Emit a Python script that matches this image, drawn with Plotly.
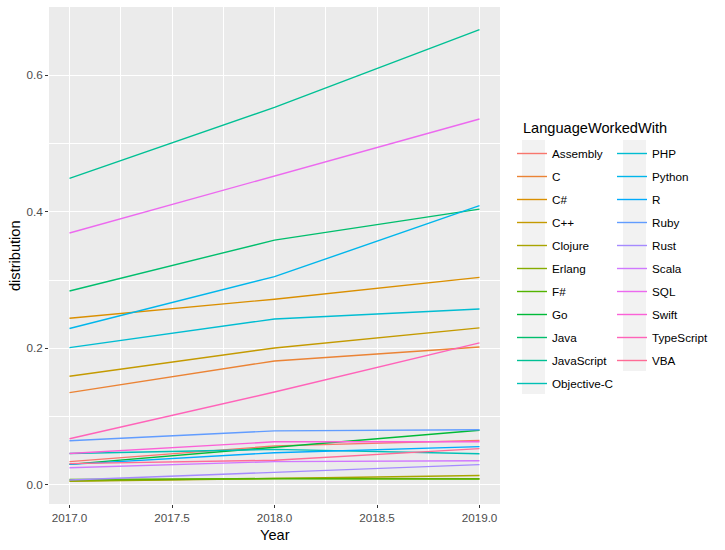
import math
import plotly.graph_objects as go

years = [2017, 2018, 2019]
languages = ["Assembly", "C", "C#", "C++", "Clojure", "Erlang", "F#", "Go", "Java",
             "JavaScript", "Objective-C", "PHP", "Python", "R", "Ruby", "Rust", "Scala",
             "SQL", "Swift", "TypeScript", "VBA"]
distribution_2017 = [0.034, 0.135, 0.244, 0.159, 0.005, 0.006, 0.008, 0.030, 0.284,
                     0.449, 0.046, 0.201, 0.229, 0.030, 0.0645, 0.007, 0.025,
                     0.369, 0.046, 0.0675, 0.031]
distribution_2018 = [0.057, 0.1815, 0.272, 0.2005, 0.0095, 0.0095, 0.009, 0.055, 0.3586,
                     0.553, 0.052, 0.243, 0.305, 0.047, 0.079, 0.018, 0.034,
                     0.452, 0.063, 0.136, 0.036]
distribution_2019 = [0.065, 0.202, 0.304, 0.230, 0.0137, 0.009, 0.0085, 0.080, 0.404,
                     0.667, 0.0455, 0.2576, 0.409, 0.056, 0.0806, 0.0296, 0.0353,
                     0.536, 0.063, 0.208, 0.053]


def hcl_hex(h, c=100.0, l=65.0):
    hr = math.radians(h)
    U, V = c * math.cos(hr), c * math.sin(hr)
    XN, YN, ZN = 95.047, 100.0, 108.883
    Y = YN * ((l + 16) / 116) ** 3 if l > 7.999592 else YN * l / 903.3
    un = 4 * XN / (XN + 15 * YN + 3 * ZN)
    vn = 9 * YN / (XN + 15 * YN + 3 * ZN)
    u = U / (13 * l) + un
    v = V / (13 * l) + vn
    X = 9.0 * Y * u / (4 * v)
    Z = -X / 3 - 5 * Y + 3 * Y / v
    rgb = [(3.240479 * X - 1.537150 * Y - 0.498535 * Z) / 100,
           (-0.969256 * X + 1.875992 * Y + 0.041556 * Z) / 100,
           (0.055648 * X - 0.204043 * Y + 1.057311 * Z) / 100]
    out = []
    for ch in rgb:
        ch = 1.055 * ch ** (1 / 2.4) - 0.055 if ch > 0.0031308 else 12.92 * ch
        ch = min(1, max(0, ch))
        out.append(int(round(ch * 255)))
    return "#%02X%02X%02X" % tuple(out)


n = len(languages)
colors = [hcl_hex(15 + i * 360 / n) for i in range(n)]

fig = go.Figure()
for i, lang in enumerate(languages):
    ys = [distribution_2017[i], distribution_2018[i], distribution_2019[i]]
    fig.add_trace(go.Scatter(
        x=years, y=ys, mode="lines", name=lang,
        line=dict(color=colors[i], width=1.4),
        legend="legend" if i < 11 else "legend2",
        legendgroup=lang,
    ))

FONT = "Liberation Sans, Arial, sans-serif"
L, R, T, B = 49, 225, 7, 46
W, H = 725, 550
pw, ph = W - L - R, H - T - B


def px_x(x):
    return (x - L) / pw


def px_y(y):
    return (H - B - y) / ph


axis_common = dict(
    showgrid=True, gridcolor="white", gridwidth=1.3,
    zeroline=False, showline=False,
    ticks="outside", ticklen=3, tickwidth=1, tickcolor="#333333",
    tickfont=dict(family=FONT, size=11.7, color="#4D4D4D"),
    tickformat=".1f",
)

legend_font = dict(family=FONT, size=11.7, color="black")

fig.update_layout(
    width=W, height=H,
    margin=dict(l=L, r=R, t=T, b=B),
    paper_bgcolor="white", plot_bgcolor="#EBEBEB",
    font=dict(family=FONT),
    xaxis=dict(range=[2016.9, 2019.1], tick0=2017, dtick=0.5,
               minor=dict(dtick=0.25, tick0=2017, showgrid=True, gridcolor="white",
                          gridwidth=0.6, ticks=""),
               **axis_common),
    yaxis=dict(range=[-0.0281, 0.7001], tick0=0, dtick=0.2,
               minor=dict(dtick=0.1, tick0=0, showgrid=True, gridcolor="white",
                          gridwidth=0.6, ticks=""),
               **axis_common),
    legend=dict(x=px_x(512), y=px_y(139), xanchor="left", yanchor="top",
                bgcolor="rgba(0,0,0,0)", tracegroupgap=4, font=legend_font),
    legend2=dict(x=px_x(612), y=px_y(139), xanchor="left", yanchor="top",
                 bgcolor="rgba(0,0,0,0)", tracegroupgap=4, font=legend_font),
    showlegend=True,
    shapes=[
        dict(type="rect", xref="paper", yref="paper", layer="below",
             x0=px_x(522), x1=px_x(545), y0=px_y(394), y1=px_y(140),
             fillcolor="#F2F2F2", line=dict(width=0)),
        dict(type="rect", xref="paper", yref="paper", layer="below",
             x0=px_x(623), x1=px_x(646), y0=px_y(371), y1=px_y(140),
             fillcolor="#F2F2F2", line=dict(width=0)),
    ],
    annotations=[
        dict(text="LanguageWorkedWith", xref="paper", yref="paper",
             x=px_x(521), y=px_y(128), xanchor="left", yanchor="middle",
             showarrow=False, font=dict(family=FONT, size=14.6, color="black")),
        dict(text="Year", xref="paper", yref="paper",
             x=px_x(274.5), y=px_y(535), xanchor="center", yanchor="middle",
             showarrow=False, font=dict(family=FONT, size=14.6, color="black")),
        dict(text="distribution", xref="paper", yref="paper", textangle=-90,
             x=px_x(15), y=px_y(256), xanchor="center", yanchor="middle",
             showarrow=False, font=dict(family=FONT, size=14.6, color="black")),
    ],
)

fig.write_html("out.html", config={"displayModeBar": False},
               post_script="document.body.style.margin='0';document.body.style.overflow='hidden';")
